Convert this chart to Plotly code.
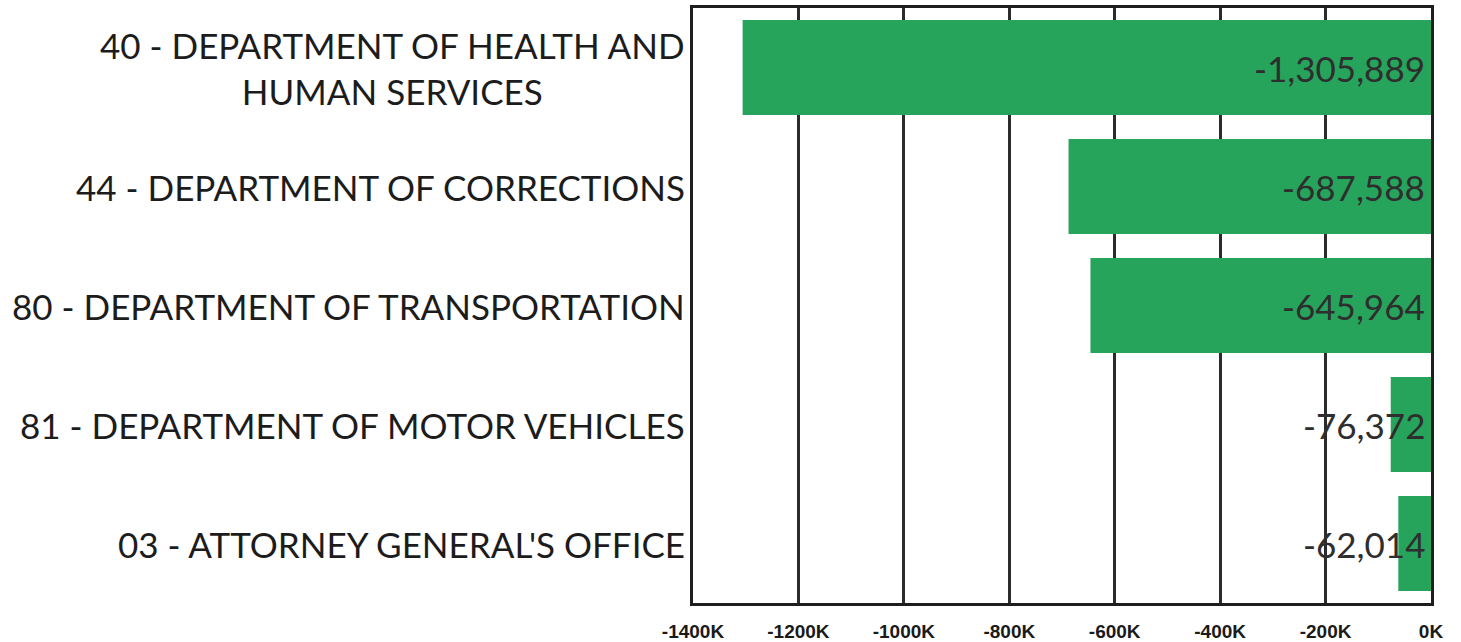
import plotly.graph_objects as go

# Departments, top to bottom
departments = [
    "40 - DEPARTMENT OF HEALTH AND<br>HUMAN SERVICES",
    "44 - DEPARTMENT OF CORRECTIONS",
    "80 - DEPARTMENT OF TRANSPORTATION",
    "81 - DEPARTMENT OF MOTOR VEHICLES",
    "03 - ATTORNEY GENERAL'S OFFICE",
]
amounts = [-1305889, -687588, -645964, -76372, -62014]

tick_values = [-1400000, -1200000, -1000000, -800000, -600000, -400000, -200000, 0]
tick_labels = ["-1400K", "-1200K", "-1000K", "-800K", "-600K", "-400K", "-200K", "0K"]

label_font = "Lato, 'Open Sans', sans-serif"

fig = go.Figure(
    go.Bar(
        x=amounts,
        y=departments,
        orientation="h",
        marker=dict(color="#27A45C", line=dict(width=0)),
        width=0.8,
        hoverinfo="x+y",
    )
)

# value labels at the zero end of each bar
for dept, val in zip(departments, amounts):
    fig.add_annotation(
        x=0, y=dept, xref="x", yref="y",
        text=f"{val:,}", showarrow=False,
        xanchor="right", yanchor="middle", xshift=-4,
        font=dict(family=label_font, size=35, color="#2e2e2e"),
    )

# category labels, centred lines, right-aligned block
for dept in departments:
    fig.add_annotation(
        x=0, y=dept, xref="paper", yref="y",
        text=dept, showarrow=False, align="center",
        xanchor="right", yanchor="middle", xshift=-6,
        font=dict(family=label_font, size=35, color="#1c1c1c"),
    )

fig.update_layout(
    width=1461, height=642,
    margin=dict(l=693, r=30, t=8, b=39),
    paper_bgcolor="white", plot_bgcolor="white",
    showlegend=False,
    xaxis=dict(
        range=[-1400000, 0],
        tickvals=tick_values, ticktext=tick_labels,
        showgrid=True, gridcolor="#2b2b2b", gridwidth=3,
        showline=True, linecolor="#1e1e1e", linewidth=3, mirror=True,
        zeroline=False, ticks="", ticklabelstandoff=9,
        automargin=False,
        tickfont=dict(family="Liberation Sans, Arial, sans-serif", size=19,
                      color="#1a1a1a", weight="bold"),
    ),
    yaxis=dict(
        categoryorder="array", categoryarray=departments,
        autorange="reversed",
        showticklabels=False, showgrid=False,
        showline=True, linecolor="#1e1e1e", linewidth=3, mirror=True,
        zeroline=False, automargin=False,
    ),
    bargap=0.2,
)

fig.write_html("out.html")
